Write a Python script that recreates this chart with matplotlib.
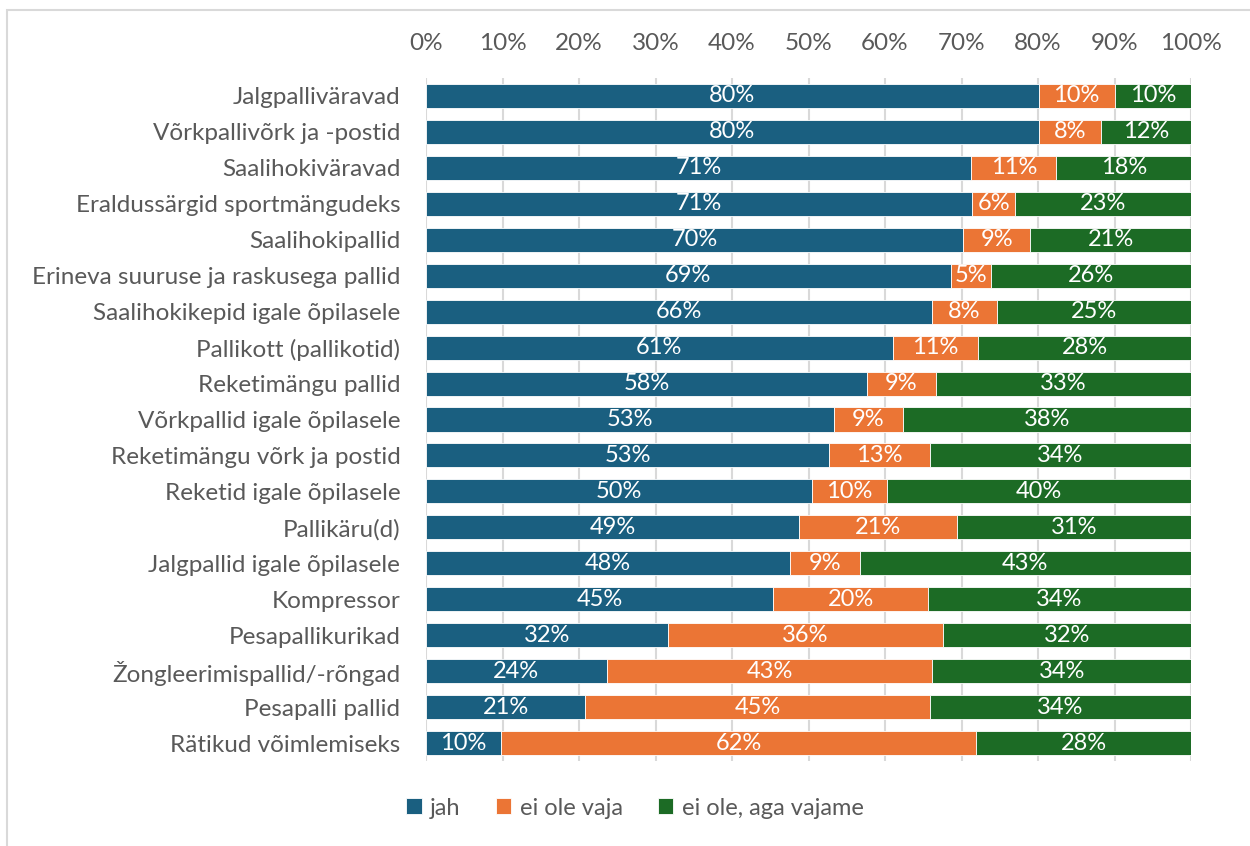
import matplotlib.pyplot as plt
from matplotlib.patches import Rectangle

plt.rcParams['font.family'] = ['Lato', 'DejaVu Sans']

categories = [
    "Jalgpalliväravad",
    "Võrkpallivõrk ja -postid",
    "Saalihokiväravad",
    "Eraldussärgid sportmängudeks",
    "Saalihokipallid",
    "Erineva suuruse ja raskusega pallid",
    "Saalihokikepid igale õpilasele",
    "Pallikott (pallikotid)",
    "Reketimängu pallid",
    "Võrkpallid igale õpilasele",
    "Reketimängu võrk ja postid",
    "Reketid igale õpilasele",
    "Pallikäru(d)",
    "Jalgpallid igale õpilasele",
    "Kompressor",
    "Pesapallikurikad",
    "Žongleerimispallid/-rõngad",
    "Pesapalli pallid",
    "Rätikud võimlemiseks",
]
jah = [80.1, 80.1, 71.3, 71.4, 70.2, 68.6, 66.2, 61.0, 57.6, 53.3,
       52.7, 50.4, 48.8, 47.6, 45.4, 31.6, 23.6, 20.8, 9.8]
ei_ole_vaja = [9.9, 8.1, 11.1, 5.6, 8.8, 5.2, 8.4, 11.2, 9.1, 9.1,
               13.2, 9.9, 20.6, 9.1, 20.2, 36.0, 42.6, 45.1, 62.1]
ei_ole_aga_vajame = [10.0, 11.8, 17.6, 23.0, 21.0, 26.2, 25.4, 27.8, 33.3, 37.6,
                     34.1, 39.7, 30.6, 43.3, 34.4, 32.4, 33.8, 34.1, 28.1]

series = [
    ("jah", jah, "#1a5f80"),
    ("ei ole vaja", ei_ole_vaja, "#eb7535"),
    ("ei ole, aga vajame", ei_ole_aga_vajame, "#1c6b25"),
]

fig = plt.figure(figsize=(12.5, 8.46), dpi=100)
ax = fig.add_axes([426 / 1250, 1 - 761 / 846, 765 / 1250, 683 / 846])

# light frame around the chart (Excel style)
fig.patches.append(Rectangle((7 / 1250, -0.1), 1.2, 1 - 10 / 846 + 0.1,
                             transform=fig.transFigure, fill=False,
                             edgecolor="#d9d9d9", linewidth=1.5))

y = list(range(len(categories)))
left = [0] * len(categories)
for name, vals, color in series:
    bars = ax.barh(y, vals, left=left, height=0.67, color=color, label=name,
                   edgecolor="white", linewidth=0.6, zorder=2)
    for b, v in zip(bars, vals):
        ax.text(b.get_x() + b.get_width() / 2, b.get_y() + b.get_height() / 2,
                f"{v:.0f}%", ha="center", va="center", color="white",
                fontsize=17, zorder=3)
    left = [l + v for l, v in zip(left, vals)]

ax.set_xlim(0, 100)
ax.set_ylim(len(categories) - 0.5, -0.5)
ax.set_xticks(range(0, 101, 10))
ax.set_xticklabels([f"{t}%" for t in range(0, 101, 10)])
ax.xaxis.tick_top()
ax.set_yticks(y)
ax.set_yticklabels(categories)
ax.tick_params(axis="both", length=0, labelsize=17.5, colors="#595959")
ax.tick_params(axis="x", pad=17)
ax.tick_params(axis="y", pad=18.5)
ax.grid(axis="x", color="#d9d9d9", linewidth=1.5, zorder=0)
ax.set_axisbelow(True)
for s in ax.spines.values():
    s.set_visible(False)

leg = fig.legend(loc="center", bbox_to_anchor=(635 / 1250, 1 - 808 / 846),
                 ncol=3, frameon=False, fontsize=17, handlelength=0.65,
                 handleheight=0.65, handletextpad=0.35, columnspacing=1.5)
for t in leg.get_texts():
    t.set_color("#595959")

fig.savefig("out.png", dpi=100)
